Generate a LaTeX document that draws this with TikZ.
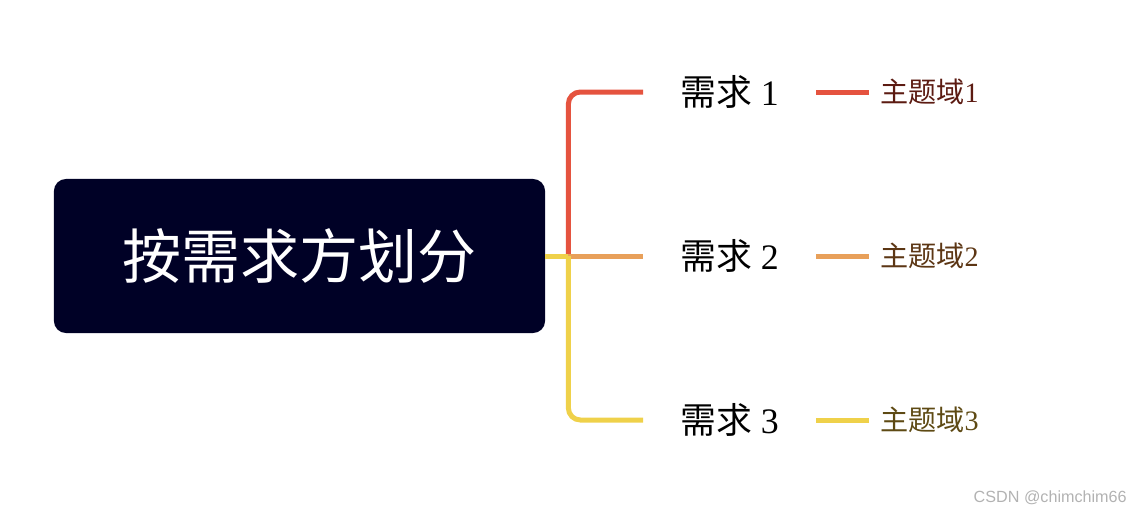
\documentclass[tikz,border=0pt]{standalone}
\usepackage{fontspec}
\setmainfont{Liberation Serif}
\newfontfamily\cjk{Noto Sans CJK SC}
\newfontfamily\wmfont{Liberation Sans}
\usetikzlibrary{positioning,calc}

\definecolor{rootbg}{HTML}{000126}
\definecolor{brA}{HTML}{E5533F}
\definecolor{brB}{HTML}{E8A05A}
\definecolor{brC}{HTML}{EFD14A}
\definecolor{txtA}{HTML}{5C1B12}
\definecolor{txtB}{HTML}{5C3614}
\definecolor{txtC}{HTML}{5E4A14}

\begin{document}
\begin{tikzpicture}[x=0.025cm, y=-0.025cm,
  root/.style={fill=rootbg, rounded corners=0.3cm, minimum width=12.275cm,
               minimum height=3.85cm, inner sep=0pt, text=white,
               font=\fontsize{42}{46}\selectfont\cjk},
  req/.style={anchor=west, inner xsep=0.925cm, inner ysep=0pt,
              font=\fontsize{25.5}{28}\selectfont},
  topic/.style={inner xsep=0.27cm, inner ysep=0pt, font=\fontsize{20}{23}\selectfont},
  br/.style={line width=0.125cm},
  twig/.style={line width=0.125cm},
]
\useasboundingbox (0,0) rectangle (1142,514);

\node[root] (root) at (299.5,256) {按需求方划分};
\coordinate (fork) at ($(root.east)+(23,0)$);

\node[req] (req1) at (643,92)  {{\cjk 需求} 1};
\node[req] (req2) at (643,256) {{\cjk 需求} 2};
\node[req] (req3) at (643,420) {{\cjk 需求} 3};

\node[topic, text=txtA, right=1.325cm of req1] (dom1) {{\cjk 主题域}1};
\node[topic, text=txtB, right=1.325cm of req2] (dom2) {{\cjk 主题域}2};
\node[topic, text=txtC, right=1.325cm of req3] (dom3) {{\cjk 主题域}3};

% branches
\draw[br, brA, rounded corners=0.3cm] (fork) |- (req1.west);
\draw[br, brB] (fork) -- (req2.west);
\draw[br, brC] (root.east) -- (fork);
\draw[br, brC, rounded corners=0.3cm] (fork) |- (req3.west);

% twigs
\draw[twig, brA] (req1.east) -- (dom1.west);
\draw[twig, brB] (req2.east) -- (dom2.west);
\draw[twig, brC] (req3.east) -- (dom3.west);

\node[anchor=east, inner sep=0pt, text=black!30, font=\fontsize{11.5}{13}\selectfont\wmfont]
  (mark) at (1127,498) {CSDN @chimchim66};
\end{tikzpicture}
\end{document}
